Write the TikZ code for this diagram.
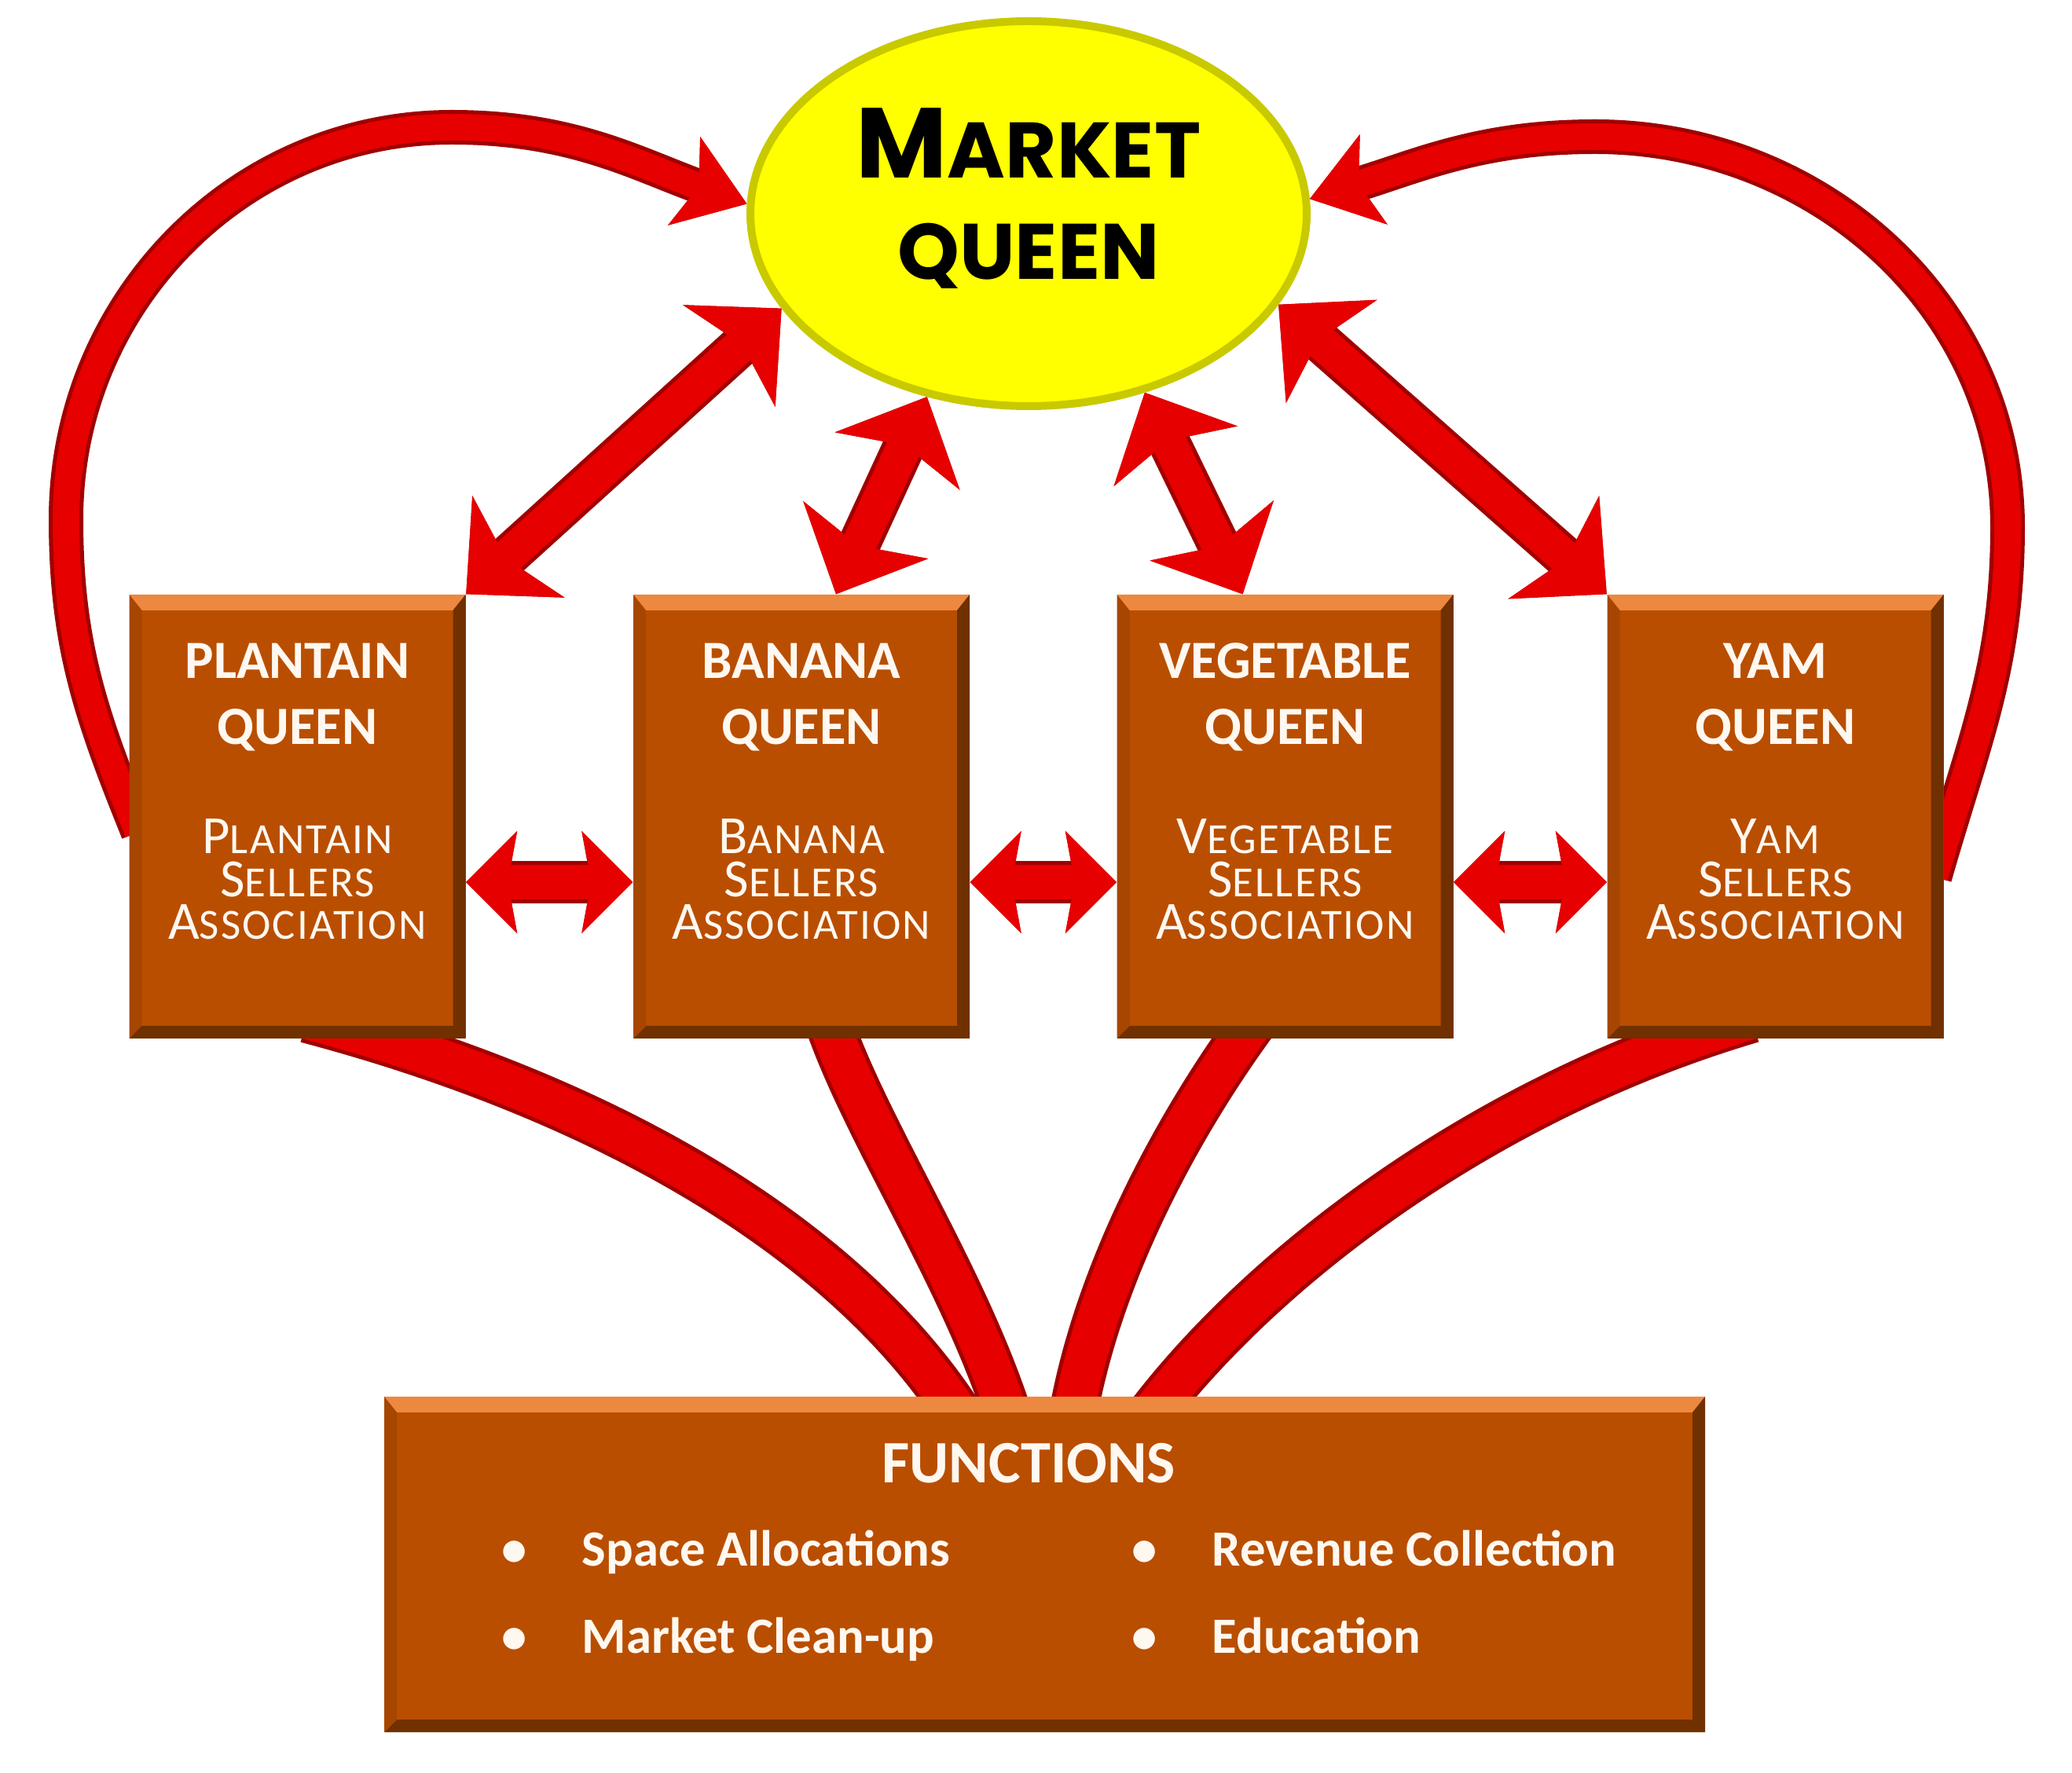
\documentclass[tikz,border=0pt]{standalone}
\usepackage{fontspec}
\setmainfont{Carlito}
\newfontfamily\mqfont{Poppins}
\newfontfamily\scfont{Carlito}[LetterSpace=4]
\usetikzlibrary{shapes.geometric,arrows.meta,positioning,backgrounds}

\definecolor{boxfill}{HTML}{B94E00}
\definecolor{boxlite}{HTML}{EC8840}
\definecolor{boxdark}{HTML}{703000}
\definecolor{boxside}{HTML}{A64600}
\definecolor{arrowred}{HTML}{E60000}
\definecolor{arrowdark}{HTML}{A00000}
\definecolor{mqyellow}{HTML}{FFFF00}
\definecolor{mqrim}{HTML}{C9C900}
\definecolor{txtwhite}{HTML}{FFF8F0}

\newcommand{\scword}[2]{{\fontsize{19.5}{15.4}\selectfont #1}{\fontsize{15.6}{15.4}\selectfont #2}}

\tikzset{
  bevelbox/.style={rectangle, fill=boxfill, inner sep=0pt,
    path picture={
      \path (path picture bounding box.north west) coordinate (bnw)
            (path picture bounding box.north east) coordinate (bne)
            (path picture bounding box.south east) coordinate (bse)
            (path picture bounding box.south west) coordinate (bsw);
      \fill[boxlite] (bnw) -- (bne) -- ([shift={(-0.16,-0.2)}]bne) -- ([shift={(0.16,-0.2)}]bnw) -- cycle;
      \fill[boxdark] (bne) -- (bse) -- ([shift={(-0.16,0.16)}]bse) -- ([shift={(-0.16,-0.2)}]bne) -- cycle;
      \fill[boxdark] (bse) -- (bsw) -- ([shift={(0.16,0.16)}]bsw) -- ([shift={(-0.16,0.16)}]bse) -- cycle;
      \fill[boxside] (bsw) -- (bnw) -- ([shift={(0.16,-0.2)}]bnw) -- ([shift={(0.16,0.16)}]bsw) -- cycle;
    }},
  qbox/.style={bevelbox, minimum width=4.28cm, minimum height=5.65cm},
  qtitle/.style={text=txtwhite, align=center, inner sep=0pt, font=\bfseries\fontsize{19.5}{23.9}\selectfont},
  qsub/.style={text=txtwhite, align=center, inner sep=0pt, font=\scfont\fontsize{15.6}{15.4}\selectfont},
  ftitle/.style={text=txtwhite, inner sep=0pt, font=\bfseries\fontsize{21.8}{26}\selectfont},
  fitem/.style={text=txtwhite, inner sep=0pt, anchor=base west, font=\bfseries\fontsize{18.4}{22}\selectfont},
  mqellipse/.style={ellipse, fill=mqyellow, draw=mqrim, line width=0.1cm, minimum width=7.08cm, minimum height=4.9cm},
  mqtext/.style={align=center, inner sep=0pt, font=\mqfont\bfseries\fontsize{28.5}{36.7}\selectfont},
  bigtip/.tip={Stealth[length=9mm, width=17.5mm, inset=2.2mm, line width=0pt]},
  sidetip/.tip={Stealth[length=6.5mm, width=13mm, inset=1.2mm, line width=0pt]},
  arctip/.tip={Stealth[length=8.5mm, width=12mm, inset=2mm, line width=0pt]},
  dblarrow/.style={preaction={draw=arrowdark, line width=0.54cm}, draw=arrowred, line width=0.44cm, bigtip-bigtip},
  sidearrow/.style={preaction={draw=arrowdark, line width=0.54cm}, draw=arrowred, line width=0.44cm, sidetip-sidetip},
  arcline/.style={preaction={draw=arrowdark, line width=0.44cm}, draw=arrowred, line width=0.34cm, -arctip},
  ribbon/.style={draw=arrowdark, double=arrowred, double distance=0.52cm, line width=0.05cm}
}

\begin{document}
\begin{tikzpicture}
\useasboundingbox (0,0) rectangle (26.37,22.56);

\node[mqellipse] (mq) at (13.09,19.84) {};
\node[mqtext, below=1.15cm of mq.north] (mq-title) {{\fontsize{36}{36.7}\selectfont M}ARKET\\QUEEN};

\foreach \nm/\xx/\ttl/\ini/\rst in {plantain/3.785/PLANTAIN/P/LANTAIN, banana/10.20/BANANA/B/ANANA,
    vegetable/16.355/VEGETABLE/V/EGETABLE, yam/22.595/YAM/Y/AM} {
  \node[qbox] (\nm) at (\xx,12.165) {};
  \node[qtitle, below=0.62cm of \nm.north] (\nm-title) {\ttl\\QUEEN};
  \node[qsub, below=2.86cm of \nm.north] (\nm-sub) {\scword{\ini}{\rst}\\\scword{S}{ELLERS}\\\scword{A}{SSOCIATION}};
}

\node[bevelbox, minimum width=16.81cm, minimum height=4.27cm] (func) at (13.295,2.645) {};
\node[ftitle, below=0.59cm of func.north, xshift=-0.2cm] (func-title) {FUNCTIONS};
\node[fitem] (f1) at (6.38,2.63) {\textbullet\hspace{0.7cm}Space Allocations};
\node[fitem] (f2) at (14.40,2.63) {\textbullet\hspace{0.7cm}Revenue Collection};
\node[fitem] (f3) at (6.38,1.51) {\textbullet\hspace{0.7cm}Market Clean-up};
\node[fitem] (f4) at (14.40,1.51) {\textbullet\hspace{0.7cm}Education};

\begin{scope}[on background layer]
% ribbons down to the functions
\draw[ribbon] ([shift={(0.12,0.26)}]plantain.south) .. controls (7.8,8.56) and (10.8,6.76) .. ([shift={(-1.05,-0.3)}]func.north);
\draw[ribbon] ([shift={(0.30,0.36)}]banana.south) .. controls (10.95,8.26) and (12.25,6.36) .. ([shift={(-0.45,-0.3)}]func.north);
\draw[ribbon] ([shift={(-0.30,0.36)}]vegetable.south) .. controls (15.2,8.56) and (14.0,6.56) .. ([shift={(0.35,-0.3)}]func.north);
\draw[ribbon] ([shift={(-0.30,0.26)}]yam.south) .. controls (18.8,8.56) and (16.0,6.36) .. ([shift={(1.3,-0.3)}]func.north);

% outer arcs
\draw[arcline] ([shift={(0.12,-0.2)}]plantain.west) to[out=112, in=270] (0.84,15.95) to[out=90, in=180] (5.75,20.94) to[out=0, in=160] (mq.178);
\draw[arcline] ([shift={(-0.12,-0.77)}]yam.east) to[out=74, in=270] (25.55,15.85) to[out=90, in=0] (20.3,20.82) to[out=180, in=17] (mq.3);

% queens and market queen
\draw[dblarrow] (plantain.north east) -- (mq.201);
\draw[dblarrow] ([xshift=0.44cm]banana.north) -- (mq.241);
\draw[dblarrow] ([xshift=-0.54cm]vegetable.north) -- (mq.303);
\draw[dblarrow] (yam.north west) -- (mq.340);

% neighbours
\draw[sidearrow] ([yshift=-0.835cm]plantain.east) -- ([yshift=-0.835cm]banana.west);
\draw[sidearrow] ([yshift=-0.835cm]banana.east) -- ([yshift=-0.835cm]vegetable.west);
\draw[sidearrow] ([yshift=-0.835cm]vegetable.east) -- ([yshift=-0.835cm]yam.west);
\end{scope}
\end{tikzpicture}
\end{document}
